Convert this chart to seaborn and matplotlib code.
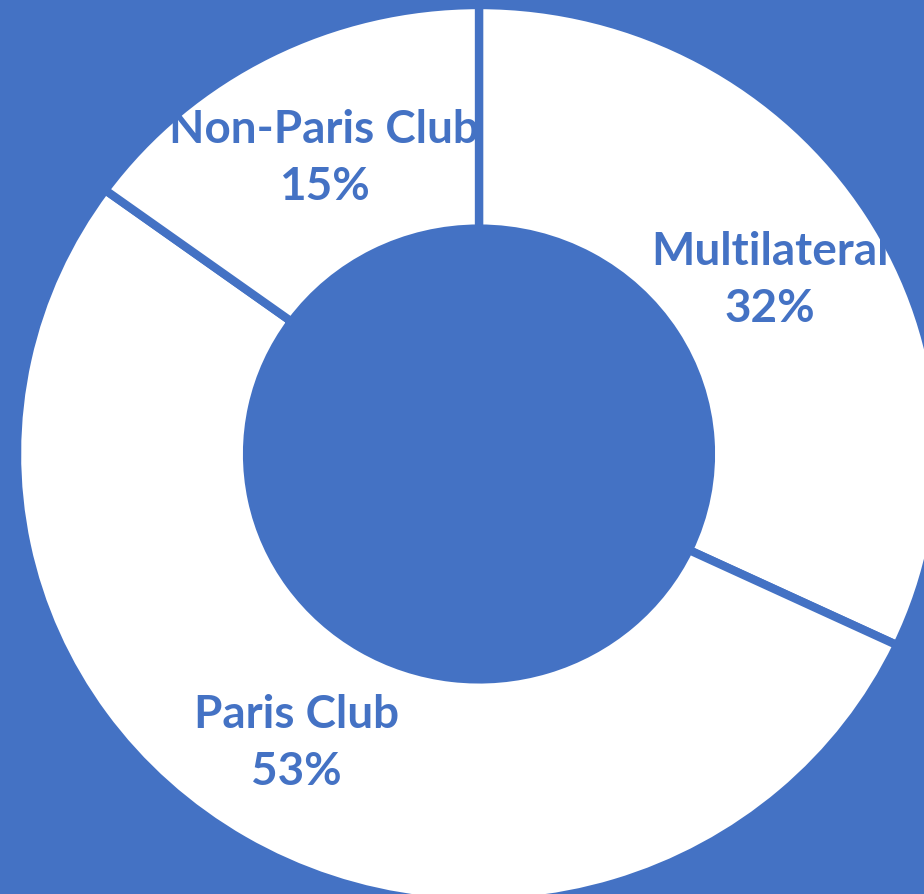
import seaborn as sns
import matplotlib.pyplot as plt
from matplotlib.patches import Circle

# debt composition by creditor type
creditors = ["Multilateral", "Paris Club", "Non-Paris Club"]
shares = [32, 53, 15]
label_pos = [(0.63, 0.388), (-0.395, -0.642), (-0.335, 0.66)]

blue = "#4472C4"

sns.set_style("white")
plt.rcParams['font.family'] = ['Lato', 'DejaVu Sans']

fig = plt.figure(figsize=(9.24, 8.95), dpi=100, facecolor=blue)
ax = fig.add_axes([0, 0, 1, 1])
ax.set_facecolor(blue)

wedges, _ = ax.pie(shares, colors=["white"] * 3, startangle=90, counterclock=False,
                   radius=1, wedgeprops=dict(width=0.498, edgecolor=blue, linewidth=6))

clip = Circle((0, 0), 0.99, transform=ax.transData, visible=False)
ax.add_patch(clip)
for name, val, (x, y) in zip(creditors, shares, label_pos):
    t = ax.text(x, y, f"{name}\n{val}%", ha="center", va="center", color=blue,
                fontsize=33, fontweight="bold", linespacing=1.45)
    t.set_clip_path(clip)

ax.set_aspect("auto")
ax.set_xlim(-1.0368, 0.9632)
ax.set_ylim(-0.98, 1.0134)
ax.axis("off")

fig.savefig("out.png", dpi=100, facecolor=blue)
